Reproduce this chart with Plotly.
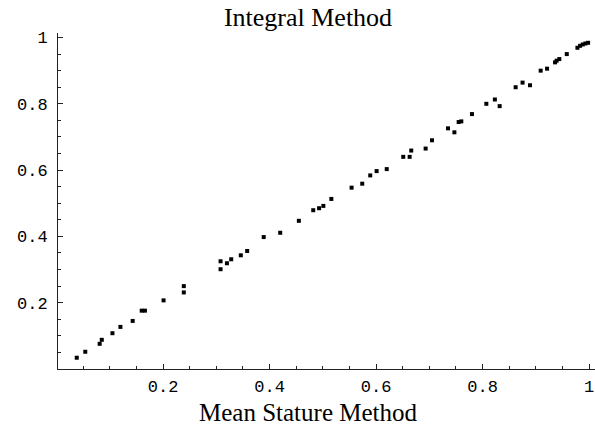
import plotly.graph_objects as go

mean_stature = [0.038, 0.054, 0.081, 0.085, 0.105, 0.120, 0.143, 0.160, 0.166, 0.201,
                0.239, 0.239, 0.308, 0.308, 0.320, 0.328, 0.346, 0.358, 0.389, 0.420,
                0.455, 0.482, 0.493, 0.501, 0.516, 0.554, 0.574, 0.589, 0.601, 0.620,
                0.651, 0.663, 0.666, 0.693, 0.705, 0.735, 0.747, 0.755, 0.760, 0.780,
                0.807, 0.823, 0.832, 0.862, 0.875, 0.889, 0.909, 0.921, 0.936, 0.939,
                0.944, 0.958, 0.978, 0.983, 0.988, 0.993, 0.998]
integral = [0.034, 0.052, 0.076, 0.088, 0.108, 0.127, 0.145, 0.176, 0.176, 0.207,
            0.231, 0.250, 0.301, 0.325, 0.319, 0.331, 0.343, 0.356, 0.398, 0.411,
            0.447, 0.479, 0.485, 0.492, 0.513, 0.547, 0.559, 0.584, 0.597, 0.603,
            0.640, 0.640, 0.659, 0.665, 0.690, 0.726, 0.714, 0.745, 0.747, 0.769,
            0.800, 0.813, 0.793, 0.850, 0.864, 0.856, 0.900, 0.906, 0.925, 0.930,
            0.935, 0.950, 0.969, 0.975, 0.979, 0.982, 0.984]

tick_vals = [0.2, 0.4, 0.6, 0.8, 1.0]
tick_text = ["0.2", "0.4", "0.6", "0.8", "1"]

fig = go.Figure()
fig.add_trace(go.Scatter(
    x=mean_stature, y=integral, mode="markers",
    marker=dict(symbol="square", size=4, color="black", line=dict(width=0)),
    showlegend=False, hoverinfo="skip"))

tick_font = dict(family="Liberation Mono", size=17, color="#000")
axis_common = dict(
    showgrid=False, zeroline=False, showline=True, linecolor="#222", linewidth=1,
    ticks="inside", ticklen=5, tickwidth=1, tickcolor="#222",
    tickmode="array", tickvals=tick_vals, ticktext=tick_text,
    tickfont=tick_font,
    minor=dict(ticks="inside", ticklen=3, tickwidth=1, tickcolor="#222",
               tickmode="linear", tick0=0, dtick=0.05, showgrid=False),
)

fig.update_layout(
    width=595, height=425,
    margin=dict(l=58, r=0, t=33, b=56),
    paper_bgcolor="white", plot_bgcolor="white",
    title=dict(text="Integral Method", x=308 / 595, xanchor="center",
               y=1 - 17 / 425, yanchor="middle", yref="container",
               font=dict(family="Liberation Serif", size=26, color="black")),
    xaxis=dict(range=[0.0028, 1.011], ticklabelstandoff=2, **axis_common),
    yaxis=dict(range=[0, 1.0136], ticklabelstandoff=6, **axis_common),
    annotations=[dict(text="Mean Stature Method", x=0.467, xref="paper",
                      y=-0.128, yref="paper", yanchor="middle",
                      showarrow=False,
                      font=dict(family="Liberation Serif", size=25, color="black"))],
)

fig.write_html("out.html")
